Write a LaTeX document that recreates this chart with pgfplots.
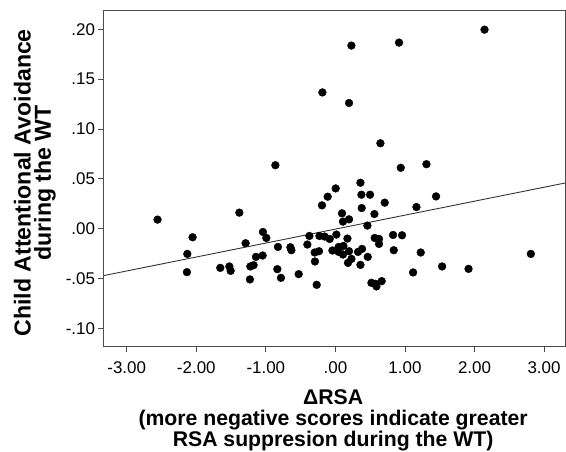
\documentclass[border=0pt]{standalone}
\usepackage{pgfplots}
\pgfplotsset{compat=1.18}
\usepackage{fontspec}
\setmainfont{Liberation Sans}
\begin{document}
\begin{tikzpicture}
\path[use as bounding box] (-104bp,-106bp) rectangle (462bp,346bp);
\begin{axis}[
  at={(0,0)}, anchor=south west,
  scale only axis, width=461bp, height=335bp,
  xmin=-3.327, xmax=3.301, ymin=-0.1178, ymax=0.2183,
  axis line style={black!70, line width=1bp},
  tick align=outside, tick pos=left,
  major tick length=6bp,
  tick style={black!70, line width=0.8bp},
  xtick={-3,-2,-1,0,1,2,3},
  xticklabels={-3.00,-2.00,-1.00,.00,1.00,2.00,3.00},
  ytick={-0.1,-0.05,0,0.05,0.1,0.15,0.2},
  yticklabels={-.10,-.05,.00,.05,.10,.15,.20},
  ticklabel style={font=\fontsize{17}{20}\selectfont},
  xticklabel style={yshift=-6bp},
  yticklabel style={xshift=0.5bp},
  xlabel={\textbf{ΔRSA}\\\textbf{(more negative scores indicate greater}\\\textbf{RSA suppresion during the WT)}},
  xlabel style={at={(axis description cs:0.497,0)}, anchor=north, align=center, inner sep=0pt, yshift=-43.7bp, font=\fontsize{21.3}{21}\selectfont},
  ylabel={\textbf{Child Attentional Avoidance}\\\textbf{during the WT}},
  ylabel style={at={(axis description cs:-0.104,0.487)}, anchor=south, align=center, inner sep=0pt, rotate=0, font=\fontsize{23.2}{20.5}\selectfont},
]
\addplot[only marks, mark=*, mark size=3.9bp, black] table {
x y
2.144 0.1996
0.230 0.1836
0.915 0.1866
-0.187 0.1366
0.196 0.126
0.647 0.0856
-0.863 0.0636
0.940 0.061
1.309 0.0646
0.360 0.046
0.004 0.0403
-0.111 0.032
0.374 0.034
0.498 0.034
1.447 0.0323
-0.193 0.0233
0.709 0.026
0.378 0.0206
1.165 0.0216
-2.557 0.009
-1.381 0.016
0.095 0.0153
0.561 0.0146
0.109 0.007
0.196 0.0093
0.460 0.003
-2.053 -0.0087
-1.042 -0.0034
-0.993 -0.0094
-1.291 -0.0147
-0.374 -0.0074
-0.230 -0.0074
-0.154 -0.008
-0.082 -0.0104
0.014 -0.006
0.173 -0.010
0.565 -0.0094
0.627 -0.0104
0.627 -0.0154
0.829 -0.0064
0.958 -0.0067
-2.129 -0.0254
-0.826 -0.0184
-0.647 -0.0187
-0.633 -0.0217
-0.403 -0.016
-0.298 -0.024
-0.236 -0.0227
-0.043 -0.022
0.047 -0.0184
0.115 -0.0174
0.047 -0.0234
0.109 -0.026
0.196 -0.0227
0.325 -0.0234
0.383 -0.0204
0.465 -0.0284
0.839 -0.0217
1.227 -0.024
-1.142 -0.0284
-1.046 -0.027
-1.176 -0.0367
-1.223 -0.038
-1.655 -0.0394
-1.525 -0.038
-1.506 -0.0424
-2.135 -0.0437
-0.835 -0.0407
-0.294 -0.033
0.230 -0.0304
0.181 -0.0344
0.360 -0.0364
-1.229 -0.051
-0.783 -0.0494
-0.528 -0.0457
-0.269 -0.0564
0.518 -0.0544
0.590 -0.058
0.666 -0.0527
0.576 -0.0554
1.117 -0.044
1.534 -0.038
1.914 -0.0404
2.810 -0.0254
};
\addplot[black!80, line width=0.9bp] coordinates {(-3.327,-0.0471) (3.301,0.0457)};
\end{axis}
\end{tikzpicture}
\end{document}
